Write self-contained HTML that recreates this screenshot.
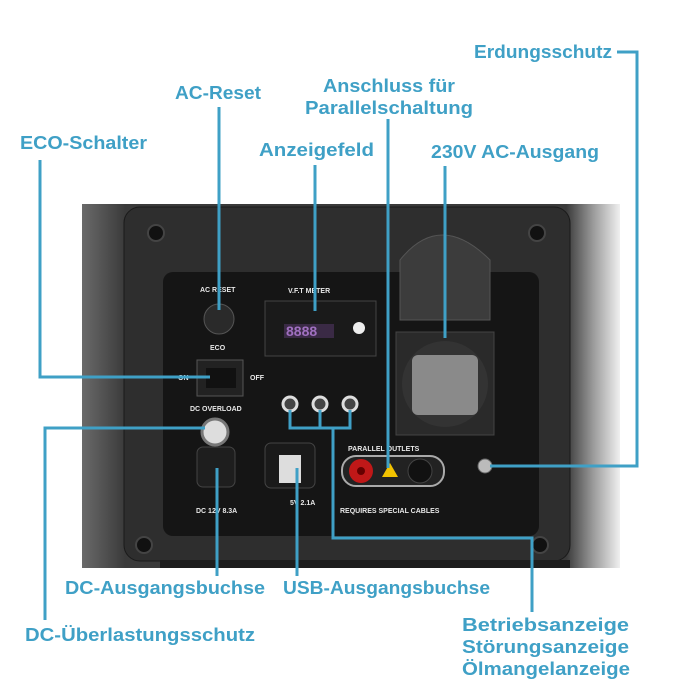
<!DOCTYPE html>
<html><head><meta charset="utf-8"><style>
html,body{margin:0;padding:0;background:#fff;width:690px;height:690px;overflow:hidden}
svg{display:block}
text{font-family:"Liberation Sans",sans-serif;font-weight:bold}
.l{fill:#3fa0c6;font-size:18px}
.w{fill:#e8e8e8;font-size:7px}
</style></head><body>
<svg width="690" height="690" viewBox="0 0 690 690">
<defs>
<linearGradient id="hs" x1="0" x2="1"><stop offset="0" stop-color="#6a6a6a"/><stop offset="0.08" stop-color="#3a3a3a"/><stop offset="0.9" stop-color="#3a3a3a"/><stop offset="0.95" stop-color="#9a9a9a"/><stop offset="1" stop-color="#f0f0f0"/></linearGradient>
</defs>
<rect x="82" y="204" width="538" height="364" fill="url(#hs)"/>
<rect x="124" y="207" width="446" height="354" rx="16" fill="#2e2e2e" stroke="#1a1a1a"/>
<rect x="163" y="272" width="376" height="264" rx="10" fill="#151515"/>
<rect x="160" y="560" width="410" height="8" fill="#1e1e1e"/>
<g fill="#111" stroke="#444" stroke-width="2">
<circle cx="156" cy="233" r="8"/><circle cx="537" cy="233" r="8"/><circle cx="144" cy="545" r="8"/><circle cx="540" cy="545" r="8"/>
</g>
<text class="w" x="200" y="292">AC RESET</text>
<circle cx="219" cy="319" r="15" fill="#2a2a2a" stroke="#555"/>
<text class="w" x="210" y="350">ECO</text>
<rect x="197" y="360" width="46" height="36" fill="#222" stroke="#555"/>
<rect x="206" y="368" width="30" height="20" fill="#111"/>
<text class="w" x="178" y="380">ON</text><text class="w" x="250" y="380">OFF</text>
<text class="w" x="190" y="411">DC OVERLOAD</text>
<circle cx="215" cy="432" r="13" fill="#ddd" stroke="#777" stroke-width="3"/>
<rect x="197" y="447" width="38" height="40" rx="6" fill="#1e1e1e" stroke="#444"/>
<text class="w" x="196" y="513">DC 12V 8.3A</text>
<text class="w" x="288" y="293">V.F.T METER</text>
<rect x="265" y="301" width="111" height="55" fill="#1a1a1a" stroke="#444"/>
<rect x="284" y="324" width="50" height="14" fill="#3a2a45"/>
<text x="286" y="336" fill="#a070c0" style="font-size:14px">8888</text>
<circle cx="359" cy="328" r="6" fill="#eee"/>
<g fill="#444" stroke="#ddd" stroke-width="3">
<circle cx="290" cy="404" r="7"/><circle cx="320" cy="404" r="7"/><circle cx="350" cy="404" r="7"/></g>
<path d="M400 260 Q440 210 490 260 L490 320 L400 320Z" fill="#3c3c3c" stroke="#555"/>
<rect x="396" y="332" width="98" height="103" fill="#2a2a2a" stroke="#444"/>
<circle cx="445" cy="384" r="43" fill="#333"/>
<rect x="412" y="355" width="66" height="60" rx="6" fill="#8a8a8a"/>
<text class="w" x="348" y="451">PARALLEL OUTLETS</text>
<rect x="342" y="456" width="102" height="30" rx="14" fill="#222" stroke="#aaa" stroke-width="2"/>
<circle cx="361" cy="471" r="12" fill="#c01818"/><circle cx="361" cy="471" r="4" fill="#600"/>
<circle cx="420" cy="471" r="12" fill="#111" stroke="#444"/>
<polygon points="390,463 398,477 382,477" fill="#f2c200"/>
<text class="w" x="340" y="513">REQUIRES SPECIAL CABLES</text>
<circle cx="485" cy="466" r="7" fill="#bbb" stroke="#666"/>
<rect x="265" y="443" width="50" height="45" rx="6" fill="#1a1a1a" stroke="#444"/>
<rect x="279" y="455" width="22" height="28" fill="#ddd"/>
<text class="w" x="290" y="505">5V 2.1A</text>
<g stroke="#3fa0c6" stroke-width="3" fill="none">
<path d="M40 160 V377 H210"/>
<path d="M219 107 V310"/>
<path d="M315 165 V311"/>
<path d="M388 119 V468"/>
<path d="M445 166 V338"/>
<path d="M617 52 H637 V466 H490"/>
<path d="M45 620 V428 H205"/>
<path d="M217 468 V576"/>
<path d="M297 468 V576"/>
<path d="M290 410 V428 H350 V410 M320 410 V428 M333 428 V538 H532 V612"/>
</g>
<text class="l" x="20" y="149" textLength="127" lengthAdjust="spacingAndGlyphs">ECO-Schalter</text>
<text class="l" x="175" y="99" textLength="86" lengthAdjust="spacingAndGlyphs">AC-Reset</text>
<text class="l" x="259" y="156" textLength="115" lengthAdjust="spacingAndGlyphs">Anzeigefeld</text>
<text class="l" x="323" y="92" textLength="132" lengthAdjust="spacingAndGlyphs">Anschluss für</text>
<text class="l" x="305" y="114" textLength="168" lengthAdjust="spacingAndGlyphs">Parallelschaltung</text>
<text class="l" x="431" y="158" textLength="168" lengthAdjust="spacingAndGlyphs">230V AC-Ausgang</text>
<text class="l" x="474" y="58" textLength="138" lengthAdjust="spacingAndGlyphs">Erdungsschutz</text>
<text class="l" x="65" y="594" textLength="200" lengthAdjust="spacingAndGlyphs">DC-Ausgangsbuchse</text>
<text class="l" x="283" y="594" textLength="207" lengthAdjust="spacingAndGlyphs">USB-Ausgangsbuchse</text>
<text class="l" x="25" y="641" textLength="230" lengthAdjust="spacingAndGlyphs">DC-Überlastungsschutz</text>
<text class="l" x="462" y="631" textLength="167" lengthAdjust="spacingAndGlyphs">Betriebsanzeige</text>
<text class="l" x="462" y="653" textLength="167" lengthAdjust="spacingAndGlyphs">Störungsanzeige</text>
<text class="l" x="462" y="675" textLength="168" lengthAdjust="spacingAndGlyphs">Ölmangelanzeige</text>
</svg>
</body></html>
